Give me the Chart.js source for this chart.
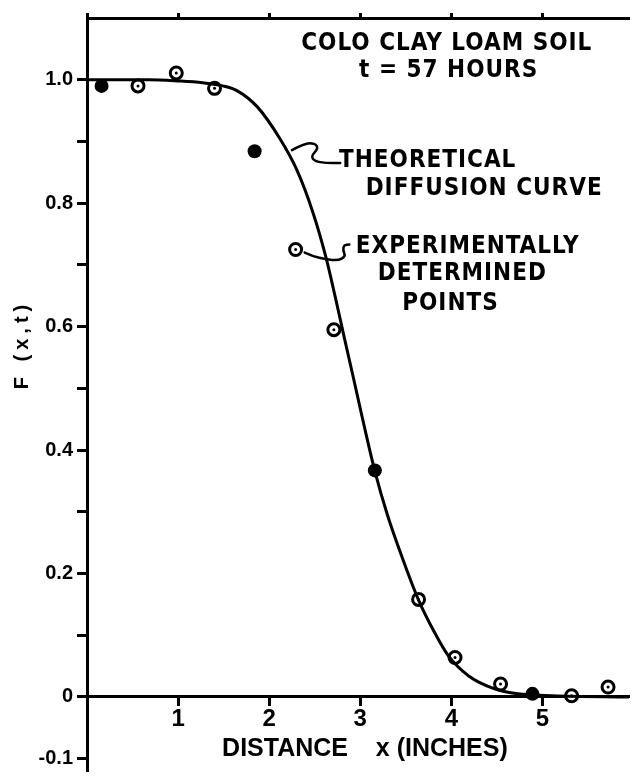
<!DOCTYPE html>
<html>
<head>
<meta charset="utf-8">
<script src="https://cdn.jsdelivr.net/npm/chart.js@4.4.1/dist/chart.umd.min.js"></script>
<style>
  html, body { margin: 0; padding: 0; background: #fff; }
</style>
</head>
<body>
<canvas id="myChart" width="638" height="780"></canvas>
<script>
// theoretical diffusion curve
var curveX = [0, 0.68, 1.00, 1.27, 1.49, 1.65, 1.87, 2.12, 2.30, 2.48, 2.62, 2.73, 2.82, 2.92, 3.02, 3.16, 3.30, 3.47, 3.64, 3.81, 3.97, 4.19, 4.46, 4.73, 5.11, 5.95];
var curveF = [1.000, 1.000, 0.998, 0.995, 0.990, 0.982, 0.956, 0.904, 0.855, 0.785, 0.714, 0.645, 0.585, 0.520, 0.454, 0.366, 0.294, 0.222, 0.157, 0.106, 0.066, 0.034, 0.014, 0.005, 0.002, 0.000];

// experimentally determined points
var openX = [0.56, 0.98, 1.40, 2.71, 3.64, 4.04, 4.54, 5.32, 5.72];
var openF = [0.990, 1.011, 0.986, 0.595, 0.158, 0.064, 0.021, 0.002, 0.016];
var solidX = [0.16, 1.84, 3.16, 4.89];
var solidF = [0.990, 0.884, 0.367, 0.005];
// sample symbol beside the note
var keyX = [2.29];
var keyF = [0.725];

// axes
var xTickValues = [1, 2, 3, 4, 5];
var xTopTickValues = [0, 1, 2, 3, 4, 5];
var yTickValues = [-0.1, 0, 0.1, 0.2, 0.3, 0.4, 0.5, 0.6, 0.7, 0.8, 0.9, 1.0];
var yLabelValues = [-0.1, 0, 0.2, 0.4, 0.6, 0.8, 1.0];
var yLabelTexts = ['-0.1', '0', '0.2', '0.4', '0.6', '0.8', '1.0'];

// notes on the plot
var noteTexts = ['COLO CLAY LOAM SOIL', 't = 57 HOURS', 'THEORETICAL', 'DIFFUSION CURVE', 'EXPERIMENTALLY', 'DETERMINED', 'POINTS'];
var noteAt = [[3.95, 1.059], [3.97, 1.014], [3.74, 0.868], [4.36, 0.823], [4.18, 0.730], [4.12, 0.685], [3.99, 0.637]];
var leaders = [
  [[2.25, 0.886], [2.39, 0.897], [2.50, 0.897], [2.54, 0.889], [2.46, 0.876], [2.50, 0.868], [2.62, 0.865], [2.78, 0.865]],
  [[2.39, 0.720], [2.48, 0.714], [2.62, 0.709], [2.76, 0.707], [2.84, 0.714], [2.81, 0.723], [2.82, 0.732], [2.88, 0.733]]
];

var FONT = '"Liberation Sans", Arial, sans-serif';
var NOTE_FONT = 'bold 24px "Liberation Sans Narrow", "DejaVu Sans Condensed", "Liberation Sans", sans-serif';

function pts(xs, ys) {
  return xs.map(function (x, i) { return {x: x, y: ys[i]}; });
}

var notesPlugin = {
  id: 'notes',
  afterDatasetsDraw: function (chart) {
    var ctx = chart.ctx, xs = chart.scales.x, ys = chart.scales.y;
    ctx.save();
    ctx.fillStyle = '#000';
    ctx.strokeStyle = '#000';
    ctx.font = NOTE_FONT;
    ctx.letterSpacing = '1px';
    ctx.textAlign = 'center';
    ctx.textBaseline = 'middle';
    noteTexts.forEach(function (t, i) {
      ctx.fillText(t, xs.getPixelForValue(noteAt[i][0]), ys.getPixelForValue(noteAt[i][1]));
    });

    ctx.lineWidth = 2.5;
    ctx.lineCap = 'round';
    ctx.lineJoin = 'round';
    leaders.forEach(function (path) {
      var p = path.map(function (d) { return [xs.getPixelForValue(d[0]), ys.getPixelForValue(d[1])]; });
      ctx.beginPath();
      ctx.moveTo(p[0][0], p[0][1]);
      for (var i = 1; i < p.length - 1; i++) {
        var mx = (p[i][0] + p[i + 1][0]) / 2, my = (p[i][1] + p[i + 1][1]) / 2;
        ctx.quadraticCurveTo(p[i][0], p[i][1], mx, my);
      }
      ctx.lineTo(p[p.length - 1][0], p[p.length - 1][1]);
      ctx.stroke();
    });

    // y axis title
    ctx.translate(22, ys.getPixelForValue(0.571));
    ctx.rotate(-Math.PI / 2);
    ctx.font = 'bold 20px ' + FONT;
    ctx.letterSpacing = '5px';
    ctx.fillText('F (x,t)', 0, 0);
    ctx.restore();
  }
};

const config = {
  type: 'line',
  data: {
    datasets: [{
      label: 'theoretical',
      data: pts(curveX, curveF),
      borderColor: '#000',
      borderWidth: 3,
      pointRadius: 0,
      cubicInterpolationMode: 'monotone',
      fill: false
    }, {
      label: 'open centres',
      data: pts(openX.concat(keyX), openF.concat(keyF)),
      showLine: false,
      pointRadius: 1.5,
      pointBorderWidth: 0,
      pointBackgroundColor: '#000'
    }, {
      label: 'open',
      data: pts(openX.concat(keyX), openF.concat(keyF)),
      showLine: false,
      pointRadius: 6,
      pointBorderWidth: 3,
      pointBorderColor: '#000',
      pointBackgroundColor: '#fff'
    }, {
      label: 'solid',
      data: pts(solidX, solidF),
      showLine: false,
      pointRadius: 7,
      pointBorderWidth: 0,
      pointBackgroundColor: '#000'
    }]
  },
  options: {
    responsive: false,
    animation: false,
    devicePixelRatio: 1,
    layout: {padding: {top: 0, left: 0, right: 0, bottom: 3}},
    plugins: {
      legend: {display: false},
      tooltip: {enabled: false}
    },
    scales: {
      x: {
        type: 'linear',
        position: {y: 0},
        min: 0,
        max: 5.95,
        afterBuildTicks: function (s) { s.ticks = xTickValues.map(function (v) { return {value: v}; }); },
        afterFit: function (s) { s.paddingLeft = 0; s.paddingRight = 0; },
        ticks: {color: '#000', padding: 0, maxRotation: 0, font: {family: FONT, size: 24, weight: 'bold'}},
        grid: {drawOnChartArea: false, drawTicks: true, tickLength: 8, tickWidth: 3, tickColor: '#000'},
        border: {display: true, color: '#000', width: 3},
        title: {display: true, text: '  DISTANCE    x (INCHES)', color: '#000', padding: {top: 0, bottom: 0},
          font: {family: FONT, size: 25, weight: 'bold'}}
      },
      xTop: {
        type: 'linear',
        position: 'top',
        min: 0,
        max: 5.95,
        afterBuildTicks: function (s) { s.ticks = xTopTickValues.map(function (v) { return {value: v}; }); },
        afterFit: function (s) { s.height = 18; s.paddingLeft = 0; s.paddingRight = 0; },
        ticks: {display: false},
        grid: {drawOnChartArea: false, drawTicks: true, tickLength: 5, tickWidth: 3, tickColor: '#000'},
        border: {display: true, color: '#000', width: 3}
      },
      y: {
        type: 'linear',
        position: 'left',
        min: -0.12,
        max: 1.1,
        afterBuildTicks: function (s) { s.ticks = yTickValues.map(function (v) { return {value: v}; }); },
        afterFit: function (s) { s.width = 87; s.paddingTop = 0; s.paddingBottom = 0; },
        ticks: {
          color: '#000',
          padding: 4,
          font: {family: FONT, size: 20, weight: 'bold'},
          callback: function (v) {
            var i = yLabelValues.indexOf(Math.round(v * 10) / 10);
            return i < 0 ? '' : yLabelTexts[i];
          }
        },
        grid: {drawOnChartArea: false, drawTicks: true, tickLength: 10, tickWidth: 3, tickColor: '#000'},
        border: {display: true, color: '#000', width: 3}
      }
    }
  },
  plugins: [notesPlugin]
};

var myChart = new Chart(document.getElementById('myChart'), config);
</script>
</body>
</html>
